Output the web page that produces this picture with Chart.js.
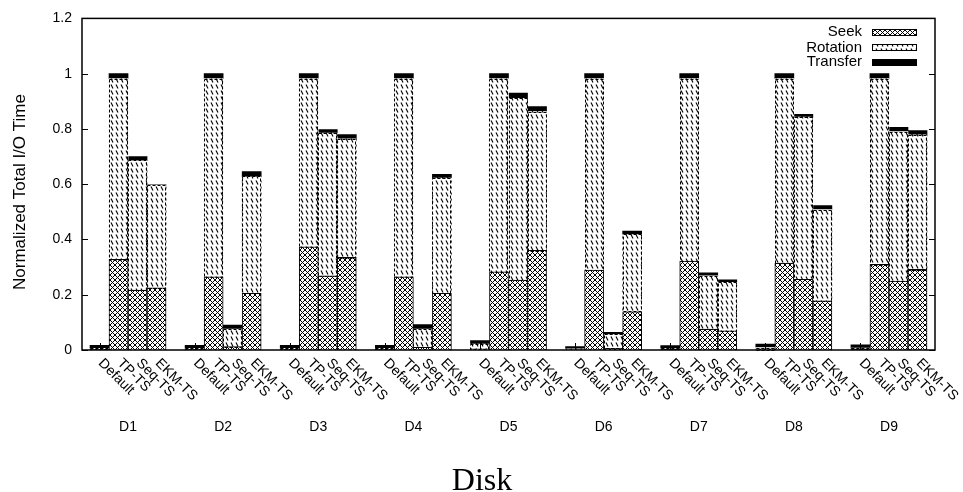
<!DOCTYPE html>
<html>
<head>
<meta charset="utf-8">
<script src="https://cdn.jsdelivr.net/npm/chart.js@4.4.0/dist/chart.umd.min.js"></script>
<style>
  html, body { margin: 0; padding: 0; background: #fff; }
</style>
</head>
<body>
<canvas id="ioChart" width="963" height="492"></canvas>
<script>
const disks = ['D1', 'D2', 'D3', 'D4', 'D5', 'D6', 'D7', 'D8', 'D9'];
const methods = ['Default', 'TP-TS', 'Seq-TS', 'EKM-TS'];
const yTicks = [0, 0.2, 0.4, 0.6, 0.8, 1, 1.2];

// normalized I/O time components, one value per disk
const defaultSeek     = [0.002, 0.002, 0.002, 0.002, 0.004, 0.001, 0.002, 0.003, 0.002];
const defaultRotation = [0.004, 0.004, 0.004, 0.004, 0.017, 0.003, 0.004, 0.006, 0.005];
const defaultTransfer = [0.011, 0.011, 0.011, 0.011, 0.013, 0.008, 0.010, 0.012, 0.012];

const tpSeek     = [0.328, 0.265, 0.373, 0.265, 0.283, 0.289, 0.322, 0.315, 0.310];
const tpRotation = [0.654, 0.717, 0.609, 0.717, 0.699, 0.693, 0.660, 0.667, 0.672];
const tpTransfer = [0.018, 0.018, 0.018, 0.018, 0.018, 0.018, 0.018, 0.018, 0.018];

const seqSeek     = [0.217, 0.012, 0.268, 0.010, 0.253, 0.006, 0.076, 0.256, 0.249];
const seqRotation = [0.469, 0.064, 0.517, 0.066, 0.658, 0.051, 0.192, 0.587, 0.541];
const seqTransfer = [0.014, 0.014, 0.013, 0.016, 0.019, 0.007, 0.011, 0.010, 0.016];

const ekmSeek     = [0.225, 0.205, 0.335, 0.205, 0.361, 0.138, 0.069, 0.178, 0.292];
const ekmRotation = [0.371, 0.423, 0.429, 0.417, 0.502, 0.280, 0.176, 0.330, 0.487];
const ekmTransfer = [0.002, 0.018, 0.016, 0.014, 0.018, 0.012, 0.009, 0.015, 0.015];

const FONT = "'Liberation Sans', Arial, Helvetica, sans-serif";
const SLOTS = methods.length + 1;   // 4 bars + one empty slot per disk

function slotOf(g, b) { return g * SLOTS + b; }

function series(arrs) {
    const pts = [];
    disks.forEach((d, g) => {
        arrs.forEach((arr, b) => pts.push({ x: slotOf(g, b), y: arr[g] }));
    });
    return pts;
}

function makeSeekPattern() {
    const c = document.createElement('canvas');
    c.width = 5; c.height = 5;
    const x = c.getContext('2d');
    x.fillStyle = '#fff';
    x.fillRect(0, 0, 5, 5);
    x.strokeStyle = '#000';
    x.lineWidth = 1;
    x.beginPath();
    x.moveTo(-1, -1); x.lineTo(6, 6);
    x.moveTo(6, -1); x.lineTo(-1, 6);
    x.stroke();
    return x.createPattern(c, 'repeat');
}

function makeRotationPattern() {
    const c = document.createElement('canvas');
    c.width = 5; c.height = 6;
    const x = c.getContext('2d');
    x.fillStyle = '#fff';
    x.fillRect(0, 0, 5, 6);
    x.strokeStyle = '#000';
    x.lineWidth = 1.1;
    x.beginPath();
    x.moveTo(1, 0.5); x.lineTo(3, 4.5);
    x.stroke();
    return x.createPattern(c, 'repeat');
}

const seekFill = makeSeekPattern();
const rotationFill = makeRotationPattern();

// frame, inward ticks, dashed rotation outlines, labels and legend
const decorations = {
    id: 'decorations',
    afterDatasetsDraw(chart) {
        const ctx = chart.ctx;
        const meta = chart.getDatasetMeta(1);
        ctx.save();
        ctx.strokeStyle = '#000';
        ctx.lineWidth = 1;
        ctx.setLineDash([3, 2]);
        meta.data.forEach(el => {
            const p = el.getProps(['x', 'y', 'base', 'width'], true);
            const h = p.base - p.y;
            if (h < 1) return;
            ctx.strokeRect(Math.round(p.x - p.width / 2) + 0.5, Math.round(p.y) + 0.5, Math.round(p.width) - 1, Math.round(h));
        });
        ctx.restore();
    },
    afterDraw(chart) {
        const ctx = chart.ctx;
        const a = chart.chartArea;
        const xs = chart.scales.x;
        const ys = chart.scales.y;
        ctx.save();

        // inward x ticks at Default bars
        ctx.strokeStyle = '#000';
        ctx.lineWidth = 1;
        disks.forEach((d, g) => {
            const px = Math.round(xs.getPixelForValue(slotOf(g, 0))) + 0.5;
            ctx.beginPath();
            ctx.moveTo(px, a.bottom);
            ctx.lineTo(px, a.bottom - 7);
            ctx.stroke();
        });

        // inward y ticks, mirrored on right
        yTicks.forEach(v => {
            const py = Math.round(ys.getPixelForValue(v)) + 0.5;
            ctx.beginPath();
            ctx.moveTo(a.left, py); ctx.lineTo(a.left + 6, py);
            ctx.moveTo(a.right, py); ctx.lineTo(a.right - 6, py);
            ctx.stroke();
        });

        // frame
        ctx.lineWidth = 1.5;
        ctx.strokeRect(a.left, a.top, a.right - a.left, a.bottom - a.top);

        ctx.fillStyle = '#000';

        // rotated method labels
        ctx.font = '14px ' + FONT;
        ctx.textAlign = 'left';
        ctx.textBaseline = 'middle';
        disks.forEach((d, g) => {
            methods.forEach((m, b) => {
                const px = xs.getPixelForValue(slotOf(g, b));
                ctx.save();
                ctx.translate(px + 1, a.bottom + 11);
                ctx.rotate(Math.PI / 4);
                ctx.fillText(m, 0, 0);
                ctx.restore();
            });
        });

        // disk labels
        ctx.textAlign = 'center';
        disks.forEach((d, g) => {
            const px = xs.getPixelForValue(slotOf(g, 1.5));
            ctx.fillText(d, px, 427);
        });

        // x title
        ctx.font = "32px 'Liberation Serif', 'Times New Roman', serif";
        ctx.textBaseline = 'alphabetic';
        ctx.fillText('Disk', 482, 490);

        // y title
        ctx.save();
        ctx.font = '17px ' + FONT;
        ctx.translate(20, 192);
        ctx.rotate(-Math.PI / 2);
        ctx.textBaseline = 'middle';
        ctx.fillText('Normalized Total I/O Time', 0, 0);
        ctx.restore();

        // legend
        const items = [
            { label: 'Seek', fill: seekFill, y: 32 },
            { label: 'Rotation', fill: rotationFill, y: 47.5 },
            { label: 'Transfer', fill: '#000', y: 62 }
        ];
        ctx.font = '15px ' + FONT;
        ctx.textAlign = 'right';
        ctx.textBaseline = 'middle';
        items.forEach(it => {
            ctx.fillStyle = '#000';
            ctx.fillText(it.label, 862, it.y);
            ctx.fillStyle = it.fill;
            ctx.fillRect(872, Math.round(it.y - 3.5), 45, 7);
            ctx.strokeStyle = '#000';
            ctx.lineWidth = 1;
            ctx.strokeRect(872.5, Math.round(it.y - 3.5) + 0.5, 44, 6);
        });

        ctx.restore();
    }
};

new Chart(document.getElementById('ioChart'), {
    type: 'bar',
    data: {
        datasets: [
            {
                label: 'Seek',
                data: series([defaultSeek, tpSeek, seqSeek, ekmSeek]),
                backgroundColor: seekFill,
                borderColor: '#000',
                borderWidth: 1
            },
            {
                label: 'Rotation',
                data: series([defaultRotation, tpRotation, seqRotation, ekmRotation]),
                backgroundColor: rotationFill,
                borderWidth: 0
            },
            {
                label: 'Transfer',
                data: series([defaultTransfer, tpTransfer, seqTransfer, ekmTransfer]),
                backgroundColor: '#000',
                borderWidth: 0
            }
        ]
    },
    options: {
        responsive: false,
        animation: false,
        barPercentage: 1,
        categoryPercentage: 1,
        layout: { padding: { top: 17, right: 28, bottom: 142, left: 0 } },
        plugins: {
            legend: { display: false },
            tooltip: { enabled: false }
        },
        scales: {
            x: {
                type: 'linear',
                offset: false,
                min: -0.92,
                max: slotOf(disks.length - 1, methods.length - 1) + 0.92,
                stacked: true,
                display: false
            },
            y: {
                min: 0,
                max: 1.2,
                stacked: true,
                grid: { display: false, drawTicks: false },
                border: { display: false },
                ticks: {
                    stepSize: 0.2,
                    padding: 10,
                    color: '#000',
                    font: { family: FONT, size: 14 },
                    callback: v => String(Math.round(v * 10) / 10)
                },
                afterFit: s => { s.width = 82; }
            }
        }
    },
    plugins: [decorations]
});
</script>
</body>
</html>
